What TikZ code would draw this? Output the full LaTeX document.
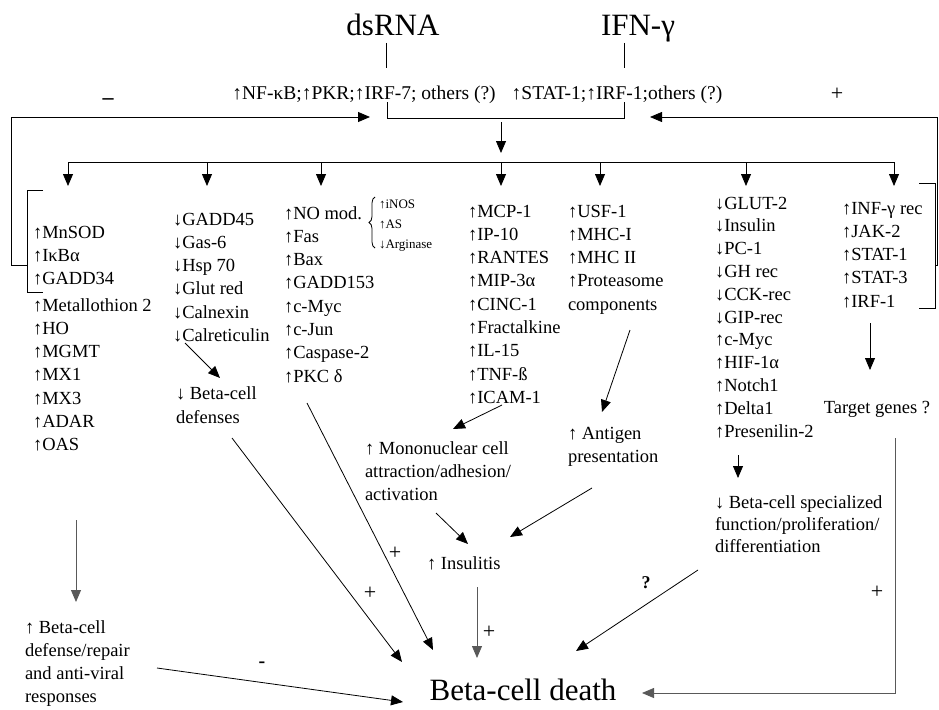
\documentclass[tikz,border=0pt]{standalone}
\usepackage{fontspec}
\setmainfont{Liberation Serif}
\usetikzlibrary{arrows.meta,decorations.pathreplacing}
\begin{document}
\begin{tikzpicture}[x=1pt,y=-1pt,
  every node/.style={inner sep=0pt, outer sep=0pt},
  body/.style={font=\fontsize{18.5}{23.3}\selectfont, align=left, anchor=base west},
  big/.style={font=\fontsize{31}{36}\selectfont, anchor=base},
  small/.style={font=\fontsize{13}{20}\selectfont, align=left, anchor=base west},
  head/.style={font=\fontsize{19.5}{20}\selectfont, anchor=base},
  ln/.style={line width=0.8pt},
  arr/.style={line width=0.8pt, -{Triangle[length=12pt,width=10pt]}},
  garr/.style={arr, draw=black!65},
  sign/.style={font=\fontsize{22}{22}\selectfont, anchor=center}
]
\useasboundingbox (0,0) rectangle (939,709);

% titles
\node[big] (ds) at (393,36) {dsRNA};
\node[big] (ifn) at (638,36) {IFN-γ};
\draw[ln] (386,43) -- (386,68);
\draw[ln] (624,43) -- (624,68);
\node[head] (nfkb) at (364,99) {↑NF-κB;↑PKR;↑IRF-7; others (?)};
\node[head] (stat) at (617,99) {↑STAT-1;↑IRF-1;others (?)};

% merge bracket
\draw[ln] (387,102) -- (387,118) -- (624,118) -- (624,102);
\coordinate (m1) at (501,122); \coordinate (m2) at (501,153);
\draw[arr] (m1) -- (m2);

% distribution
\draw[ln] (68,162) -- (894,162);
\foreach \x in {68,207,321,501,600,746,894} \draw[arr] (\x,162) -- (\x,186);

% feedback left
\draw[ln] (43,190) -- (27,190) -- (27,292) -- (43,292);
\draw[arr] (27,265) -- (11,265) -- (11,117) -- (370,117);
\node[font=\fontsize{22}{22}\bfseries\selectfont] (minus1) at (108,102) {–};
% feedback right
\draw[ln] (919,183) -- (935,183) -- (935,308) -- (919,308);
\draw[arr] (935,265) -- (937.5,265) -- (937.5,117) -- (650,117);
\node[sign] (plus1) at (837,94) {+};

% column 1
\node[body] (c1a) at (33,284.6) {↑MnSOD\\↑IκBα\\↑GADD34};
\node[body] (c1b) at (33,450.8) {↑Metallothion 2\\↑HO\\↑MGMT\\↑MX1\\↑MX3\\↑ADAR\\↑OAS};
\draw[garr] (76,520) -- (76,602);
\node[body, font=\fontsize{18.5}{23}\selectfont] (bdef) at (25,702) {↑ Beta-cell\\defense/repair\\and anti-viral\\responses};

% column 2
\node[body] (c2) at (173,341.5) {↓GADD45\\↓Gas-6\\↓Hsp 70\\↓Glut red\\↓Calnexin\\↓Calreticulin};
\draw[arr] (185,343) -- (220,378);
\node[body, font=\fontsize{18.5}{24}\selectfont] (defn) at (176,423) {↓ Beta-cell\\defenses};

% column 3
\node[body] (c3) at (284,382.1) {↑NO mod.\\↑Fas\\↑Bax\\↑GADD153\\↑c-Myc\\↑c-Jun\\↑Caspase-2\\↑PKC δ};
\draw[ln, decorate, decoration={brace, amplitude=6pt}] (375,248) -- (375,197);
\node[small] (nos) at (379,248) {↑iNOS\\↑AS\\↓Arginase};

% column 4
\node[body] (c4) at (468,403.4) {↑MCP-1\\↑IP-10\\↑RANTES\\↑MIP-3α\\↑CINC-1\\↑Fractalkine\\↑IL-15\\↑TNF-ß\\↑ICAM-1};
\draw[arr] (502,405) -- (453,429);
\node[body, font=\fontsize{18.5}{23}\selectfont] (mono) at (365,500) {↑ Mononuclear cell\\attraction/adhesion/\\activation};
\draw[arr] (436,513) -- (468,544);
\node[body] (ins) at (427,569) {↑ Insulitis};

% column 5
\node[body] (c5) at (568,310.2) {↑USF-1\\↑MHC-I\\↑MHC II\\↑Proteasome\\components};
\draw[arr] (630,330) -- (602,412);
\node[body, font=\fontsize{18.5}{23}\selectfont] (ant) at (568,462) {↑ Antigen\\presentation};
\draw[arr] (592,488) -- (510,537);

% column 6
\node[body, font=\fontsize{18.5}{22.8}\selectfont] (c6) at (715,437) {↓GLUT-2\\↓Insulin\\↓PC-1\\↓GH rec\\↓CCK-rec\\↓GIP-rec\\↑c-Myc\\↑HIF-1α\\↑Notch1\\↑Delta1\\↑Presenilin-2};
\draw[arr] (738,455) -- (738,478);
\node[body, font=\fontsize{18.5}{22}\selectfont] (spec) at (715,552) {↓ Beta-cell specialized\\function/proliferation/\\differentiation};

% column 7
\node[body] (c7) at (842,307.2) {↑INF-γ rec\\↑JAK-2\\↑STAT-1\\↑STAT-3\\↑IRF-1};
\draw[arr] (870,323) -- (870,370);
\node[font=\fontsize{18.5}{20}\selectfont, anchor=base] (tg) at (877,413) {Target genes ?};

% death
\node[big] (death) at (523,700) {Beta-cell death};
\draw[arr] (157,668) -- (403,702);
\node[font=\fontsize{20}{20}\bfseries\selectfont] (minus2) at (262,665) {-};
\draw[arr] (232,438) -- (402,662);
\node[sign] (plus2) at (370,593) {+};
\draw[arr] (307,403) -- (433,650);
\node[sign] (plus3) at (395,553) {+};
\draw[garr] (477,587) -- (477,658);
\node[sign] (plus4) at (489,632) {+};
\draw[arr] (698,570) -- (576,651);
\node[font=\fontsize{18}{20}\bfseries\selectfont] (q) at (646,583) {?};
\draw[garr] (895,438) -- (895,693) -- (642,693);
\node[sign] (plus5) at (877,592) {+};
\end{tikzpicture}
\end{document}
